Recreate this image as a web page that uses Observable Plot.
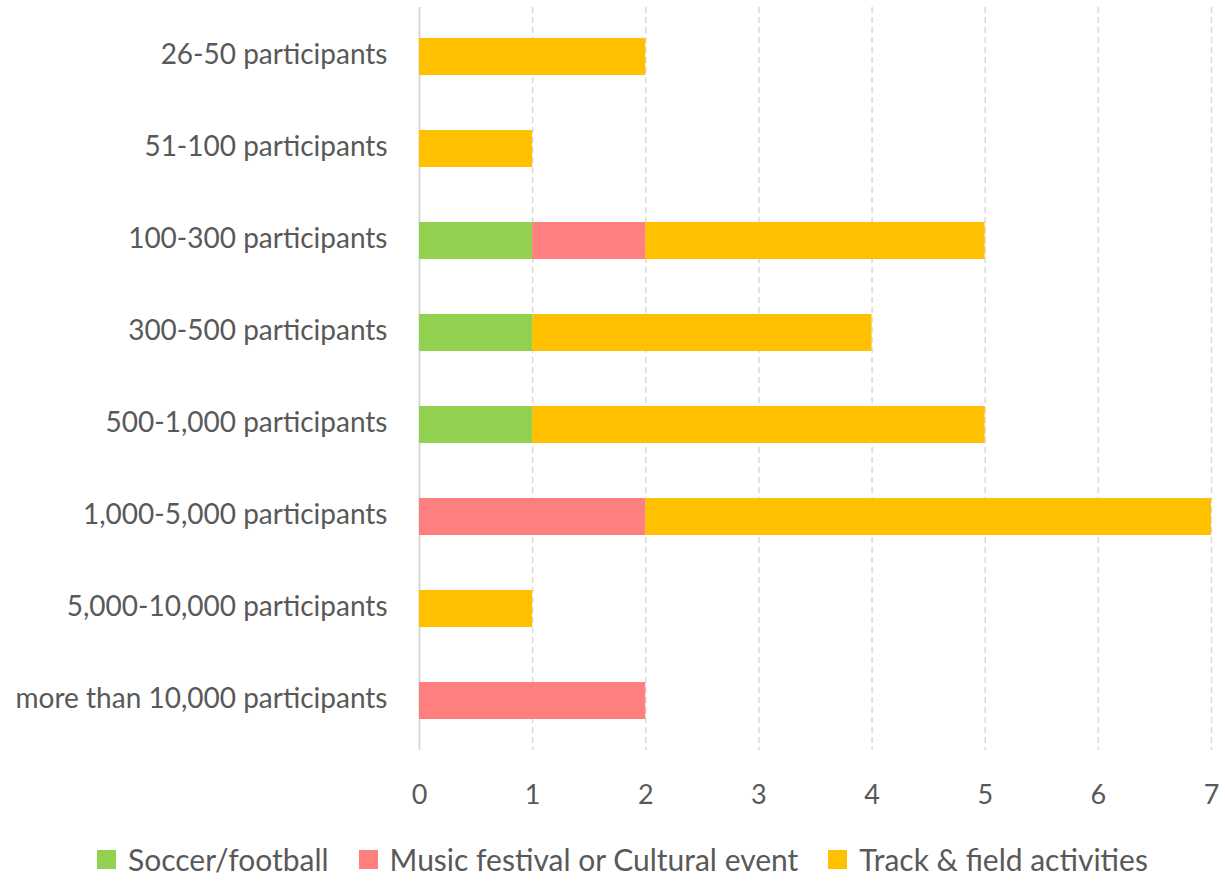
<!DOCTYPE html>
<html>
<head>
<meta charset="utf-8">
<script src="https://cdn.jsdelivr.net/npm/d3@7"></script>
<script src="https://cdn.jsdelivr.net/npm/@observablehq/plot@0.6"></script>
<style>
  body { margin: 0; background: #fff; font-family: Lato, "Open Sans", sans-serif; }
  #legend { display: flex; justify-content: center; align-items: center; gap: 30px; margin-top: 26px; padding-left: 20px; color: #595959; font-size: 30px; }
  .item { display: flex; align-items: center; gap: 12px; }
  .sw { width: 19px; height: 19px; display: inline-block; }
</style>
</head>
<body>
<div id="chart"></div>
<div id="legend"></div>
<script>
const categories = ["26-50 participants", "51-100 participants", "100-300 participants", "300-500 participants", "500-1,000 participants", "1,000-5,000 participants", "5,000-10,000 participants", "more than 10,000 participants"];
const seriesNames = ["Soccer/football", "Music festival or Cultural event", "Track & field activities"];
const colors = ["#92D050", "#FF7F7F", "#FFC000"];
const soccer = [0, 0, 1, 1, 1, 0, 0, 0];
const music  = [0, 0, 1, 0, 0, 2, 0, 2];
const track  = [2, 1, 3, 3, 4, 5, 1, 0];
const xTicks = [0, 1, 2, 3, 4, 5, 6, 7];

const seriesValues = [soccer, music, track];
const data = [];
categories.forEach((c, i) => {
  seriesNames.forEach((s, j) => {
    if (seriesValues[j][i] > 0) data.push({category: c, series: s, value: seriesValues[j][i]});
  });
});

const plot = Plot.plot({
  width: 1225,
  height: 815,
  marginLeft: 419,
  marginRight: 14,
  marginTop: 7,
  marginBottom: 65,
  style: {fontFamily: "Lato, 'Open Sans', sans-serif", fontSize: "27px", color: "#595959", background: "#fff", overflow: "visible"},
  x: {domain: [0, 7], ticks: xTicks, label: null},
  y: {domain: categories, paddingInner: 0.6, paddingOuter: 0.3, label: null},
  color: {domain: seriesNames, range: colors},
  marks: [
    Plot.ruleX(xTicks.slice(1), {stroke: "#d9d9d9", strokeWidth: 1.5, strokeDasharray: "6,4"}),
    Plot.ruleX([0], {stroke: "#d9d9d9", strokeWidth: 2}),
    Plot.barX(data, Plot.stackX({x: "value", y: "category", fill: "series", order: seriesNames})),
    Plot.axisX({ticks: xTicks, tickFormat: d3.format("d"), tickSize: 0, tickPadding: 34, label: null, fontSize: 27}),
    Plot.axisY({tickSize: 0, tickPadding: 32, label: null, fontSize: 28, dy: -2})
  ]
});
document.getElementById("chart").appendChild(plot);

const legend = document.getElementById("legend");
seriesNames.forEach((s, i) => {
  const it = document.createElement("div");
  it.className = "item";
  it.innerHTML = `<span class="sw" style="background:${colors[i]}"></span><span>${s}</span>`;
  legend.appendChild(it);
});
</script>
</body>
</html>
